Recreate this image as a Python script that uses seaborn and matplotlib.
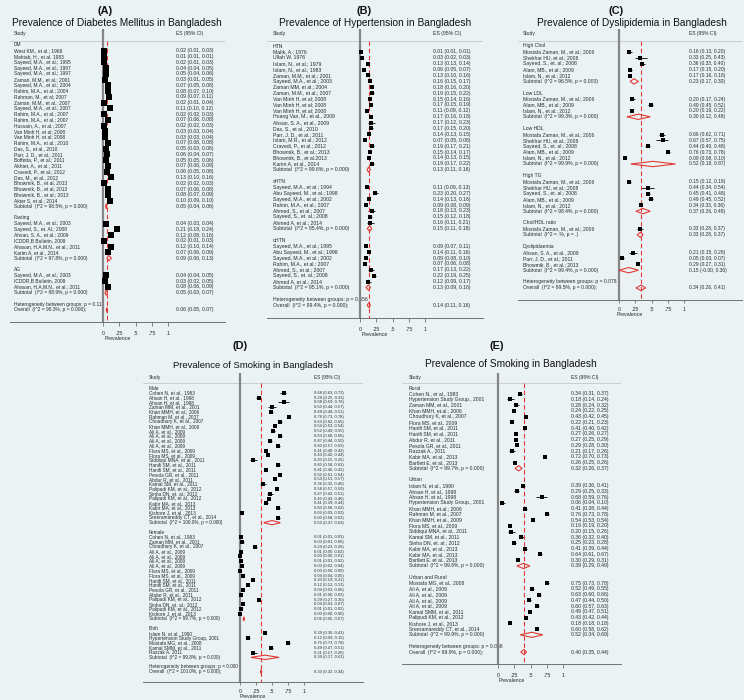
import matplotlib
matplotlib.use("Agg")
import matplotlib.pyplot as plt
import seaborn as sns
import pandas as pd
from matplotlib.patches import Polygon

# ---------------- DATA ----------------
# Panel A: Diabetes Mellitus
A_dm_lab = ["West KM., et al.; 1966", "Mahtab, H., et al. 1983", "Sayeed, M.A., et al.; 1995",
            "Sayeed, M.A., et al.; 1997", "Sayeed, M.A., et al.; 1997", "Zaman, M.M., et al.; 2001",
            "Sayeed, M.A., et al.; 2004", "Rahim, M.A., et al.; 2004", "Rahman, M., et al; 2007",
            "Zaman, M.M., et al.; 2007", "Sayeed, M.A., et al.; 2007", "Rahim, M.A., et al.; 2007",
            "Rahim, M.A., et al.; 2007", "Hussain, A., et al.; 2007", "Van Minh H, et al; 2008",
            "Van Minh H, et al; 2008", "Rahim, M.A., et al.; 2010", "Das, S., et al., 2010",
            "Parr, J. D., et al.; 2011", "Boffetta, P., et al.; 2011", "Akhter, A., et al.; 2011",
            "Cravedi, P., et al.; 2012", "Das, M., et al., 2012", "Bhowmik, B., et al, 2013",
            "Bhowmik, B., et al, 2013", "Bhowmik, B., et al.; 2013", "Akter S, et al.; 2014"]
A_dm_es = [0.02, 0.01, 0.02, 0.04, 0.05, 0.03, 0.07, 0.08, 0.09, 0.02, 0.11, 0.02, 0.07, 0.02,
           0.03, 0.03, 0.07, 0.05, 0.06, 0.05, 0.07, 0.06, 0.13, 0.02, 0.07, 0.08, 0.10]
A_dm_lo = [0.01, 0.01, 0.01, 0.04, 0.04, 0.01, 0.05, 0.07, 0.07, 0.01, 0.10, 0.02, 0.06, 0.02,
           0.03, 0.03, 0.06, 0.03, 0.04, 0.05, 0.06, 0.05, 0.10, 0.02, 0.06, 0.07, 0.09]
A_dm_hi = [0.03, 0.01, 0.03, 0.05, 0.06, 0.05, 0.08, 0.10, 0.11, 0.04, 0.12, 0.03, 0.08, 0.03,
           0.04, 0.04, 0.08, 0.06, 0.07, 0.06, 0.09, 0.08, 0.16, 0.03, 0.08, 0.09, 0.10]
A_fa_lab = ["Sayeed, M.A., et al.; 2003", "Sayeed, S., et. Al.; 2008", "Ahsan, S. A., et al.; 2009",
            "ICDDR,B Bulletin, 2009", "Ahasan, H.A.M.N., et al.; 2011", "Karim A, et al., 2014"]
A_fa_es = [0.04, 0.21, 0.12, 0.02, 0.12, 0.07]
A_fa_lo = [0.03, 0.18, 0.08, 0.01, 0.10, 0.06]
A_fa_hi = [0.04, 0.24, 0.16, 0.03, 0.14, 0.09]
A_ag_lab = ["Sayeed, M.A., et al.; 2003", "ICDDR,B Bulletin, 2009", "Ahasan, H.A.M.N., et al.; 2011"]
A_ag_es = [0.04, 0.03, 0.08]
A_ag_lo = [0.04, 0.02, 0.06]
A_ag_hi = [0.05, 0.05, 0.09]
A_groups = ["DM", "Fasting", "AG"]
A_sub_es = [0.05, 0.09, 0.05]
A_sub_lo = [0.04, 0.06, 0.03]
A_sub_hi = [0.06, 0.13, 0.07]
A_sub_i2 = ["98.5%", "97.8%", "88.9%"]
A_sub_p = ["0.000", "0.000", "0.000"]
A_overall = [0.06, 0.05, 0.07]
A_overall_i2 = "98.3%"
A_het_p = "0.113"

# Panel B: Hypertension
B_htn_lab = ["Malik, A.; 1976", "Ullah W. 1976", "Islam, N., et al.; 1979", "Islam, N., et al.; 1983",
             "Zaman, M.M., et al.; 2001", "Sayeed, M.A., et al.; 2003", "Zaman MM, et al.; 2004",
             "Zaman, M.M., et al.; 2007", "Van Minh H, et al; 2008", "Van Minh H, et al; 2008",
             "Van Minh H, et al; 2008", "Hoang Van, M., et al., 2009", "Ahsan, S. A., et al., 2009",
             "Das, S., et al., 2010", "Parr, J. D., et al.; 2011", "Islam, M.R., et al.; 2012",
             "Cravedi, P., et al.; 2012", "Bhowmik, B., et al.; 2013", "Bhowmik, B., et al.2013",
             "Karim A, et al., 2014"]
B_htn_es = [0.01, 0.03, 0.13, 0.06, 0.13, 0.16, 0.18, 0.19, 0.15, 0.17, 0.11, 0.17, 0.17, 0.17,
            0.14, 0.07, 0.19, 0.15, 0.14, 0.19]
B_htn_lo = [0.01, 0.02, 0.13, 0.05, 0.10, 0.15, 0.16, 0.15, 0.14, 0.15, 0.09, 0.16, 0.12, 0.15,
            0.13, 0.05, 0.17, 0.14, 0.13, 0.17]
B_htn_hi = [0.01, 0.03, 0.14, 0.07, 0.16, 0.17, 0.20, 0.22, 0.16, 0.19, 0.12, 0.18, 0.23, 0.20,
            0.15, 0.08, 0.21, 0.17, 0.15, 0.22]
B_s_lab = ["Sayeed, M.A., et al.; 1994", "Abu Sayeed, M., et al.; 1998", "Sayeed, M.A., et al.; 2002",
           "Rahim, M.A., et al.; 2007", "Ahmed, S., et al.; 2007", "Sayeed, S., et. al.; 2008",
           "Ahmed A, et al.; 2014"]
B_s_es = [0.11, 0.23, 0.14, 0.09, 0.18, 0.15, 0.16]
B_s_lo = [0.09, 0.20, 0.13, 0.08, 0.13, 0.12, 0.11]
B_s_hi = [0.13, 0.27, 0.16, 0.09, 0.23, 0.18, 0.21]
B_d_lab = ["Sayeed, M.A., et al.; 1995", "Abu Sayeed, M., et al.; 1998", "Sayeed, M.A., et al.; 2002",
           "Rahim, M.A., et al.; 2007", "Ahmed, S., et al.; 2007", "Sayeed, S., et. al.; 2008",
           "Ahmed A, et al.; 2014"]
B_d_es = [0.09, 0.14, 0.09, 0.07, 0.17, 0.22, 0.12]
B_d_lo = [0.07, 0.11, 0.08, 0.06, 0.13, 0.19, 0.09]
B_d_hi = [0.11, 0.16, 0.10, 0.08, 0.22, 0.25, 0.17]
B_groups = ["HTN", "sHTN", "dHTN"]
B_sub_es = [0.13, 0.15, 0.13]
B_sub_lo = [0.11, 0.11, 0.09]
B_sub_hi = [0.16, 0.18, 0.16]
B_sub_i2 = ["99.6%", "95.4%", "95.1%"]
B_sub_p = ["0.000", "0.000", "0.000"]
B_overall = [0.14, 0.11, 0.16]
B_overall_i2 = "99.4%"
B_het_p = "0.656"

# Panel C: Dyslipidemia
C_hc_lab = ["Mostafa Zaman, M., et al.; 2006", "Shekhar HU, et al.; 2008", "Sayeed, S., et. al.; 2008",
            "Alam, MB., et al.; 2009", "Islam, N., et al.; 2012"]
C_hc_es = [0.16, 0.33, 0.36, 0.17, 0.17]
C_hc_lo = [0.13, 0.25, 0.33, 0.15, 0.16]
C_hc_hi = [0.20, 0.43, 0.40, 0.20, 0.18]
C_ldl_lab = ["Mostafa Zaman, M., et al.; 2006", "Alam, MB., et al.; 2009", "Islam, N., et al.; 2012"]
C_ldl_es = [0.20, 0.49, 0.20]
C_ldl_lo = [0.17, 0.45, 0.19]
C_ldl_hi = [0.24, 0.52, 0.22]
C_hdl_lab = ["Mostafa Zaman, M., et al.; 2006", "Shekhar HU, et al.; 2008", "Sayeed, S., et. al.; 2008",
             "Alam, MB., et al.; 2009", "Islam, N., et al.; 2012"]
C_hdl_es = [0.66, 0.67, 0.44, 0.76, 0.09]
C_hdl_lo = [0.62, 0.57, 0.40, 0.73, 0.08]
C_hdl_hi = [0.71, 0.75, 0.48, 0.78, 0.10]
C_tg_lab = ["Mostafa Zaman, M., et al.; 2006", "Shekhar HU, et al.; 2008", "Sayeed, S., et. al.; 2008",
            "Alam, MB., et al.; 2009", "Islam, N., et al.; 2012"]
C_tg_es = [0.15, 0.44, 0.45, 0.49, 0.34]
C_tg_lo = [0.12, 0.34, 0.41, 0.45, 0.33]
C_tg_hi = [0.19, 0.54, 0.48, 0.52, 0.36]
C_ratio_lab = ["Mostafa Zaman, M., et al.; 2006"]
C_ratio_es = [0.33]
C_ratio_lo = [0.28]
C_ratio_hi = [0.37]
C_dys_lab = ["Ahsan, S. A., et al., 2009", "Parr, J. D., et al.; 2011", "Bhowmik, B., et al.; 2013"]
C_dys_es = [0.21, 0.05, 0.29]
C_dys_lo = [0.15, 0.03, 0.27]
C_dys_hi = [0.28, 0.07, 0.31]
C_groups = ["High Chol", "Low LDL", "Low HDL", "High TG", "Chol/HDL ratio", "Dyslipidaemia"]
C_sub_es = [0.23, 0.30, 0.52, 0.37, 0.33, 0.15]
C_sub_lo = [0.17, 0.12, 0.18, 0.26, 0.28, -0.001]
C_sub_hi = [0.30, 0.48, 0.87, 0.48, 0.37, 0.30]
C_sub_i2 = ["96.5%", "99.3%", "99.9%", "98.4%", ".%", "99.4%"]
C_sub_p = ["0.000", "0.000", "0.000", "0.000", ".", "0.000"]
C_overall = [0.34, 0.26, 0.41]
C_overall_i2 = "99.5%"
C_het_p = "0.078"

# Panel D: Smoking by sex
D_m_lab = ["Cohen N, et al., 1983", "Ahsan H, et al., 1998", "Ahsan H, et al., 1998",
           "Zaman MM, et al., 2001", "Khan MMH, et al.; 2006", "Rahman M, et al., 2007",
           "Choudhury K, et al., 2007", "Khan MMH, et al., 2009", "Ali A, et al., 2009",
           "Ali A, et al., 2009", "Ali A, et al., 2009", "Ali A, et al., 2009",
           "Flora MS, et al., 2009", "Flora MS, et al., 2009", "Siddiqui MNA, et al., 2011",
           "Hanifi SM, et al., 2011", "Hanifi SM, et al., 2011", "Pesola GR, et al., 2011",
           "Abdur R, et al., 2011", "Kamal SM, et al., 2011", "Palipudi KM, et al., 2012",
           "Sinha DN, et. al.; 2012", "Palipudi KM, et al., 2012", "Kabir MA, et al., 2013",
           "Kabir MA, et al., 2013", "Kishore J, et al., 2013", "Sreeramareddy CT, et al., 2014"]
D_m_es = [0.68, 0.29, 0.68, 0.50, 0.49, 0.76, 0.63, 0.54, 0.52, 0.63, 0.47, 0.60, 0.41, 0.43,
          0.20, 0.60, 0.41, 0.62, 0.54, 0.36, 0.58, 0.47, 0.45, 0.41, 0.60, 0.03, 0.60]
D_m_lo = [0.63, 0.25, 0.59, 0.44, 0.48, 0.73, 0.62, 0.53, 0.49, 0.60, 0.44, 0.57, 0.40, 0.42,
          0.15, 0.58, 0.40, 0.61, 0.51, 0.32, 0.57, 0.42, 0.43, 0.39, 0.58, 0.03, 0.58]
D_m_hi = [0.72, 0.33, 0.76, 0.57, 0.51, 0.78, 0.65, 0.54, 0.55, 0.66, 0.50, 0.63, 0.42, 0.44,
          0.26, 0.62, 0.42, 0.64, 0.57, 0.40, 0.59, 0.51, 0.46, 0.44, 0.62, 0.03, 0.62]
D_f_lab = ["Cohen N, et al., 1983", "Zaman MM, et al., 2001", "Choudhury K, et al., 2007",
           "Ali A, et al., 2009", "Ali A, et al., 2009", "Ali A, et al., 2009", "Ali A, et al., 2009",
           "Flora MS, et al., 2009", "Flora MS, et al., 2009", "Hanifi SM, et al., 2011",
           "Hanifi SM, et al., 2011", "Pesola GR, et al., 2011", "Abdur R, et al., 2011",
           "Palipudi KM, et al., 2012", "Sinha DN, et. al.; 2012", "Palipudi KM, et al., 2012",
           "Kishore J, et al., 2013"]
D_f_es = [0.01, 0.03, 0.24, 0.01, 0.00, 0.01, 0.03, 0.00, 0.04, 0.20, 0.12, 0.04, 0.01, 0.29,
          0.04, 0.01, 0.00]
D_f_lo = [0.01, 0.01, 0.23, 0.00, 0.00, 0.01, 0.02, 0.00, 0.04, 0.19, 0.12, 0.03, 0.00, 0.27,
          0.03, 0.01, 0.00]
D_f_hi = [0.03, 0.06, 0.26, 0.02, 0.01, 0.02, 0.04, 0.00, 0.05, 0.21, 0.13, 0.06, 0.02, 0.30,
          0.07, 0.02, 0.00]
D_b_lab = ["Islam N, et al., 1990", "Hypertension Study Group, 2001", "Mostafa MG, et al., 2008",
           "Kamal SMM, et al., 2011", "Razzak A. 2011"]
D_b_es = [0.39, 0.12, 0.75, 0.49, 0.21]
D_b_lo = [0.36, 0.09, 0.73, 0.47, 0.17]
D_b_hi = [0.41, 0.15, 0.78, 0.51, 0.26]
D_groups = ["Male", "Female", "Both"]
D_sub_es = [0.50, 0.06, 0.39]
D_sub_lo = [0.37, 0.05, 0.17]
D_sub_hi = [0.63, 0.07, 0.61]
D_sub_i2 = ["100.0%", "99.7%", "99.8%"]
D_sub_p = ["0.000", "0.000", "0.000"]
D_overall = [0.33, 0.32, 0.34]
D_overall_i2 = "100.0%"
D_het_p = "0.000"

# Panel E: Smoking by residence
E_r_lab = ["Cohen N., et al., 1983", "Hypertension Study Group., 2001", "Zaman MM, et al., 2001",
           "Khan MMH, et.al.; 2006", "Choudhury K, et al., 2007", "Flora MS, et al., 2009",
           "Hanifi SM, et al., 2011", "Hanifi SM, et al., 2011", "Abdur R, et al., 2011",
           "Pesola GR, et al., 2011", "Razzak A., 2011", "Kabir MA, et al., 2013",
           "Bartlett E, et al., 2013"]
E_r_es = [0.34, 0.18, 0.28, 0.24, 0.43, 0.22, 0.41, 0.27, 0.27, 0.29, 0.21, 0.72, 0.26]
E_r_lo = [0.31, 0.14, 0.24, 0.22, 0.42, 0.21, 0.40, 0.26, 0.25, 0.28, 0.17, 0.70, 0.25]
E_r_hi = [0.37, 0.24, 0.32, 0.25, 0.45, 0.23, 0.42, 0.27, 0.29, 0.30, 0.26, 0.73, 0.26]
E_u_lab = ["Islam N, et al., 1990", "Ahsan H, et al., 1998", "Ahsan H, et al., 1998",
           "Hypertension Study Group., 2001", "Khan MMH, et.al.; 2006", "Rahman M, et al., 2007",
           "Khan MMH, et al., 2009", "Flora MS, et al., 2009", "Siddiqui MNA, et al., 2011",
           "Kamal SM, et al., 2011", "Sinha DN, et. al.; 2012", "Kabir MA, et al., 2013",
           "Kabir MA, et al., 2013", "Bartlett E. et al., 2013"]
E_u_es = [0.39, 0.29, 0.68, 0.06, 0.41, 0.76, 0.54, 0.19, 0.20, 0.36, 0.25, 0.41, 0.64, 0.30]
E_u_lo = [0.36, 0.25, 0.59, 0.04, 0.38, 0.73, 0.53, 0.19, 0.15, 0.32, 0.23, 0.39, 0.61, 0.29]
E_u_hi = [0.41, 0.33, 0.76, 0.10, 0.44, 0.78, 0.54, 0.20, 0.26, 0.40, 0.28, 0.44, 0.67, 0.31]
E_ur_lab = ["Mostafa MG, et al., 2008", "Ali A, et al., 2009", "Ali A, et al., 2009",
            "Ali A, et al., 2009", "Ali A, et al., 2009", "Kamal SMM, et al., 2011",
            "Palipudi KM, et al., 2012", "Kishore J, et al., 2013", "Sreeramareddy CT, et al., 2014"]
E_ur_es = [0.75, 0.52, 0.63, 0.47, 0.60, 0.49, 0.43, 0.18, 0.60]
E_ur_lo = [0.73, 0.49, 0.60, 0.44, 0.57, 0.47, 0.42, 0.18, 0.58]
E_ur_hi = [0.78, 0.55, 0.66, 0.50, 0.63, 0.51, 0.44, 0.18, 0.62]
E_groups = ["Rural", "Urban", "Urban and Rural"]
E_sub_es = [0.32, 0.39, 0.52]
E_sub_lo = [0.26, 0.29, 0.34]
E_sub_hi = [0.37, 0.49, 0.69]
E_sub_i2 = ["99.7%", "99.8%", "99.9%"]
E_sub_p = ["0.000", "0.000", "0.000"]
E_overall = [0.40, 0.35, 0.44]
E_overall_i2 = "99.9%"
E_het_p = "0.068"

TICKS = [0, 0.25, 0.5, 0.75, 1]
TICK_LABELS = ["0", ".25", ".5", ".75", "1"]

# ---------------- STYLE ----------------
W, H, DPI = 744, 700, 100
BG = "#eaf2f3"
RED = "#e23a36"
TXT = "#2a2a2a"
sns.set_theme(style="white")
plt.rcParams['font.family'] = ['Liberation Sans', 'DejaVu Sans']

fig = plt.figure(figsize=(W / DPI, H / DPI), dpi=DPI, facecolor=BG)


def fmt(e, lo, hi):
    return f"{e:.2f} ({lo:.2f}, {hi:.2f})"


def draw(sp, groups, studies, sub_es, sub_lo, sub_hi, sub_i2, sub_p, overall, ov_i2, het_p,
         title, letter):
    xl, xr, px0, ppu = sp['xl'], sp['xr'], sp['px0'], sp['ppu']
    row0, dy, ytop, ybot = sp['row0'], sp['dy'], sp['ytop'], sp['ybot']
    ax = fig.add_axes([xl / W, 1 - ybot / H, (xr - xl) / W, (ybot - ytop) / H])
    ax.set_facecolor(BG)
    X = lambda px: (px - px0) / ppu
    Y = lambda py: (py - row0) / dy
    ax.set_xlim(X(xl), X(xr))
    ax.set_ylim(Y(ybot), Y(ytop))
    fs, fe = sp['fs'], sp['fe']
    xs, xe = X(sp['xs']), X(sp['xe'])

    pts_x, pts_y = [], []
    r = 0
    hh = 0.45
    for gi, g in enumerate(groups):
        ax.text(xs, r, g, fontsize=fs, va='center', color=TXT)
        r += 1
        labs, es, lo, hi = studies[gi]
        for lab, e, l, h in zip(labs, es, lo, hi):
            ax.text(xs, r, lab, fontsize=fs, va='center', color=TXT)
            ax.text(xe, r, fmt(e, l, h), fontsize=fe, va='center', color=TXT)
            ax.plot([l, h], [r, r], color='black', lw=0.6, solid_capstyle='butt')
            pts_x.append(e)
            pts_y.append(r)
            r += 1
        ax.text(xs, r, f"Subtotal  (I^2 = {sub_i2[gi]}, p = {sub_p[gi]})", fontsize=fs,
                va='center', color=TXT)
        ax.text(xe, r, fmt(sub_es[gi], sub_lo[gi], sub_hi[gi]), fontsize=fe, va='center', color=TXT)
        ax.add_patch(Polygon([(sub_lo[gi], r), (sub_es[gi], r - hh), (sub_hi[gi], r),
                              (sub_es[gi], r + hh)], closed=True, fill=False, ec=RED, lw=0.8,
                             zorder=4))
        r += 2
    ax.text(xs, r, f"Heterogeneity between groups: p = {het_p}", fontsize=fs, va='center',
            color=TXT, zorder=1)
    r += 1
    ax.text(xs, r, f"Overall  (I^2 = {ov_i2}, p = 0.000);", fontsize=fs, va='center', color=TXT)
    ax.text(xe, r, fmt(*overall), fontsize=fe, va='center', color=TXT)
    ax.add_patch(Polygon([(overall[1], r), (overall[0], r - hh), (overall[2], r),
                          (overall[0], r + hh)], closed=True, fill=False, ec=RED, lw=0.8, zorder=4))

    df = pd.DataFrame({"es": pts_x, "row": pts_y})
    sns.scatterplot(data=df, x="es", y="row", marker="s", s=sp['ms'], color="black",
                    linewidth=0, ax=ax, legend=False, zorder=3)

    # header
    ax.text(xs, Y(sp['hdr']), "Study", fontsize=fs, va='center', color=TXT)
    ax.text(xe, Y(sp['hdr']), "ES (95% CI)", fontsize=fs, va='center', color=TXT)
    ax.axhline(Y(sp['hline']), color="#c9cfd1", lw=0.7, zorder=1)
    # reference lines
    ax.axvline(0, color="#858585", lw=1.6, zorder=2)
    ax.plot([overall[0], overall[0]], [Y(sp['hline']), Y(ybot)], color=RED, lw=0.8,
            ls=(0, (4, 2.5)), zorder=2)

    ax.set_xlabel("Prevalence", fontsize=3.8, labelpad=0.3, color=TXT)
    ax.set_ylabel("")
    ax.set_xticks(TICKS)
    ax.set_xticklabels(TICK_LABELS)
    ax.set_yticks([])
    ax.tick_params(axis='x', length=sp['tl'], width=0.6, color="#707070", labelsize=3.8,
                   pad=sp['tp'], labelcolor=TXT, bottom=True)
    for s in ['top', 'left', 'right']:
        ax.spines[s].set_visible(False)
    ax.spines['bottom'].set_color("#707070")
    ax.spines['bottom'].set_linewidth(0.7)

    fig.text(sp['tcx'] / W, 1 - sp['ty'] / H, title, fontsize=sp['tfs'], ha='center',
             va='center', color="#111111")
    fig.text(sp['lx'] / W, 1 - sp['ly'] / H, letter, fontsize=7.8, fontweight='bold',
             ha='center', va='center', color="#111111")


specA = dict(xl=10, xr=225, px0=103, ppu=65, row0=45, dy=5.76, ytop=29, ybot=322, xs=14, xe=176,
             hdr=34, hline=41, ty=23, tcx=117, lx=105, ly=10.5, fs=3.5, fe=3.7, ms=14, tfs=7.3,
             tl=3, tp=3.5)
specB = dict(xl=267, xr=483, px0=360, ppu=65, row0=46, dy=5.89, ytop=29, ybot=318, xs=273, xe=433,
             hdr=34, hline=41, ty=23, tcx=375, lx=364, ly=10.5, fs=3.7, fe=3.7, ms=10, tfs=7.3,
             tl=3, tp=3.5)
specC = dict(xl=518, xr=742, px0=619, ppu=65, row0=46, dy=5.9, ytop=29, ybot=300, xs=523, xe=689,
             hdr=34, hline=41, ty=23, tcx=632, lx=616, ly=10.5, fs=3.6, fe=3.5, ms=7, tfs=7.3,
             tl=2.5, tp=2.5)
specD = dict(xl=143, xr=363, px0=240, ppu=64, row0=388, dy=4.81, ytop=373, ybot=682, xs=149,
             xe=314, hdr=378, hline=383, ty=365, tcx=253, lx=240, ly=346, fs=3.4, fe=3.0, ms=12,
             tfs=6.8, tl=2.5, tp=2.3)
specE = dict(xl=402, xr=621, px0=498, ppu=65, row0=388, dy=5.74, ytop=373, ybot=664, xs=409,
             xe=571, hdr=377, hline=383, ty=364, tcx=511, lx=497, ly=346, fs=3.6, fe=3.7, ms=7,
             tfs=7.3, tl=3, tp=3.5)

draw(specA, A_groups,
     [(A_dm_lab, A_dm_es, A_dm_lo, A_dm_hi), (A_fa_lab, A_fa_es, A_fa_lo, A_fa_hi),
      (A_ag_lab, A_ag_es, A_ag_lo, A_ag_hi)],
     A_sub_es, A_sub_lo, A_sub_hi, A_sub_i2, A_sub_p, A_overall, A_overall_i2, A_het_p,
     "Prevalence of Diabetes Mellitus in Bangladesh", "(A)")
draw(specB, B_groups,
     [(B_htn_lab, B_htn_es, B_htn_lo, B_htn_hi), (B_s_lab, B_s_es, B_s_lo, B_s_hi),
      (B_d_lab, B_d_es, B_d_lo, B_d_hi)],
     B_sub_es, B_sub_lo, B_sub_hi, B_sub_i2, B_sub_p, B_overall, B_overall_i2, B_het_p,
     "Prevalence of Hypertension in Bangladesh", "(B)")
draw(specC, C_groups,
     [(C_hc_lab, C_hc_es, C_hc_lo, C_hc_hi), (C_ldl_lab, C_ldl_es, C_ldl_lo, C_ldl_hi),
      (C_hdl_lab, C_hdl_es, C_hdl_lo, C_hdl_hi), (C_tg_lab, C_tg_es, C_tg_lo, C_tg_hi),
      (C_ratio_lab, C_ratio_es, C_ratio_lo, C_ratio_hi), (C_dys_lab, C_dys_es, C_dys_lo, C_dys_hi)],
     C_sub_es, C_sub_lo, C_sub_hi, C_sub_i2, C_sub_p, C_overall, C_overall_i2, C_het_p,
     "Prevalence of Dyslipidemia in Bangladesh", "(C)")
draw(specD, D_groups,
     [(D_m_lab, D_m_es, D_m_lo, D_m_hi), (D_f_lab, D_f_es, D_f_lo, D_f_hi),
      (D_b_lab, D_b_es, D_b_lo, D_b_hi)],
     D_sub_es, D_sub_lo, D_sub_hi, D_sub_i2, D_sub_p, D_overall, D_overall_i2, D_het_p,
     "Prevalence of Smoking in Bangladesh", "(D)")
draw(specE, E_groups,
     [(E_r_lab, E_r_es, E_r_lo, E_r_hi), (E_u_lab, E_u_es, E_u_lo, E_u_hi),
      (E_ur_lab, E_ur_es, E_ur_lo, E_ur_hi)],
     E_sub_es, E_sub_lo, E_sub_hi, E_sub_i2, E_sub_p, E_overall, E_overall_i2, E_het_p,
     "Prevalence of Smoking in Bangladesh", "(E)")

fig.savefig("out.png", dpi=DPI, facecolor=BG)
